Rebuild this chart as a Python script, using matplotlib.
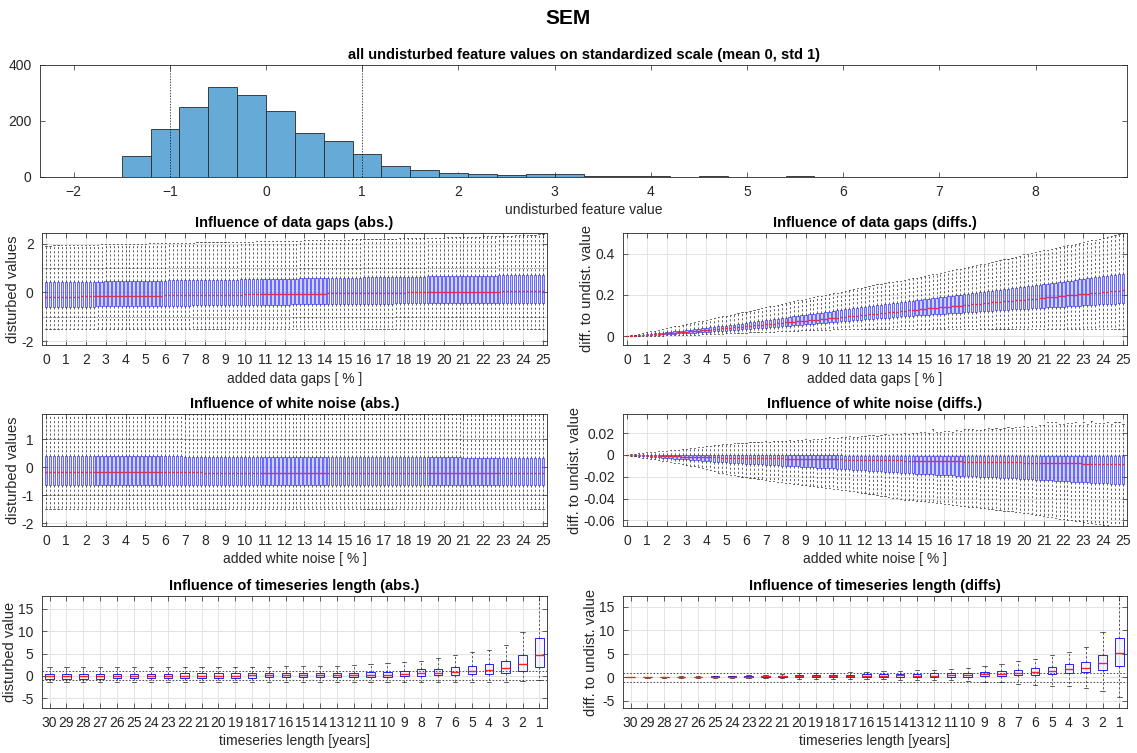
import matplotlib.pyplot as plt
import numpy as np
from matplotlib.ticker import FuncFormatter

plt.rcParams['font.family'] = ['Liberation Sans', 'DejaVu Sans']
plt.rcParams['font.size'] = 10

# ---- histogram of the undisturbed feature values (bins of 0.3, from -1.8) ----
hist_start, hist_bin = -1.8, 0.3
hist_counts = [1, 75, 170, 249, 322, 292, 234, 157, 128, 82, 39, 25, 14, 11, 7, 11, 10,
               5, 5, 4, 0, 3, 0, 0, 2, 0, 0, 0, 0, 0, 0, 0, 0, 1]

# ---- added data gaps / white noise levels in % ----
levels = np.round(np.arange(126) * 0.2, 1)

# data gaps, absolute values (hundredths)
gap_abs_lo = [
    -151, -151, -151, -151, -151, -151, -151, -151, -151, -151, -151, -151, -151, -151, -151,
    -151, -151, -151, -151, -151, -151, -151, -151, -151, -151, -151, -151, -151, -151, -151,
    -151, -151, -151, -151, -151, -151, -151, -151, -151, -151, -151, -151, -151, -151, -151,
    -151, -151, -151, -151, -151, -151, -151, -151, -151, -151, -151, -151, -151, -151, -151,
    -150, -150, -150, -150, -150, -150, -150, -150, -150, -150, -150, -150, -150, -150, -150,
    -150, -150, -150, -150, -150, -150, -150, -150, -150, -150, -150, -150, -150, -150, -150,
    -150, -150, -150, -150, -150, -150, -150, -150, -150, -150, -150, -150, -150, -150, -150,
    -150, -150, -150, -150, -150, -150, -150, -150, -150, -150, -150, -150, -150, -150, -150,
    -150, -150, -150, -150, -150, -150]
gap_abs_q1 = [
    -59, -59, -59, -59, -59,  -59, -58, -58, -58, -58,  -58, -58, -58, -57, -57,
    -57, -57, -57, -57, -56,  -56, -56, -56, -56, -56,  -55, -55, -55, -55, -55,
    -55, -54, -54, -54, -54,  -54, -54, -53, -53, -53,  -53, -53, -53, -52, -52,
    -52, -52, -52, -52, -51,  -51, -51, -51, -51, -51,  -50, -50, -50, -50, -50,
    -50, -50, -49, -49, -49,  -49, -49, -49, -48, -48,  -48, -48, -48, -48, -48,
    -47, -47, -47, -47, -47,  -47, -46, -46, -46, -46,  -46, -46, -46, -45, -45,
    -45, -45, -45, -45, -45,  -45, -44, -44, -44, -44,  -44, -44, -44, -44, -44,
    -44, -44, -43, -43, -43,  -43, -43, -43, -43, -43,  -43, -43, -43, -42, -42,
    -42, -42, -42, -42, -42,  -42]
gap_abs_med = [
    -18, -18, -18, -18, -17,  -17, -17, -17, -17, -16,  -16, -16, -16, -16, -16,
    -15, -15, -15, -15, -15,  -14, -14, -14, -14, -14,  -13, -13, -13, -13, -13,
    -12, -12, -12, -12, -12,  -11, -11, -11, -11, -11,  -10, -10, -10, -10, -10,
    -9, -9, -9, -9, -9,       -8, -8, -8, -8, -8,       -7, -7, -7, -7, -7,
    -7, -6, -6, -6, -6,       -6, -5, -5, -5, -5,       -5, -4, -4, -4, -4,
    -4, -3, -3, -3, -3,       -3, -2, -2, -2, -2,       -2, -1, -1, -1, -1,
    -1, 0, 0, 0, 0,           0, 0, 1, 1, 1,            1, 1, 1, 2, 2,
    2, 2, 2, 2, 3,            3, 3, 3, 3, 3,            4, 4, 4, 4, 4,
    4, 5, 5, 5, 5,            5]
gap_abs_q3 = [
    41, 41, 41, 42, 42,  42, 42, 43, 43, 43,  43, 44, 44, 44, 44,  45, 45, 45, 45, 46,
    46, 46, 46, 47, 47,  47, 47, 48, 48, 48,  48, 49, 49, 49, 50,  50, 50, 50, 51, 51,
    51, 51, 52, 52, 52,  52, 53, 53, 53, 54,  54, 54, 54, 55, 55,  55, 55, 56, 56, 56,
    57, 57, 57, 57, 58,  58, 58, 58, 59, 59,  59, 59, 60, 60, 60,  60, 61, 61, 61, 61,
    62, 62, 62, 62, 63,  63, 63, 63, 64, 64,  64, 64, 65, 65, 65,  65, 66, 66, 66, 66,
    67, 67, 67, 67, 68,  68, 68, 68, 68, 69,  69, 69, 69, 69, 70,  70, 70, 70, 70, 70,
    71, 71, 71, 71, 71,  71]
gap_abs_hi = [
    192, 192, 193, 193, 193,  194, 194, 194, 195, 195,  195, 196, 196, 196, 197,
    197, 197, 198, 198, 198,  199, 199, 199, 200, 200,  200, 201, 201, 201, 202,
    202, 202, 203, 203, 203,  204, 204, 204, 205, 205,  205, 206, 206, 206, 207,
    207, 207, 208, 208, 208,  209, 209, 209, 210, 210,  210, 211, 211, 211, 212,
    212, 212, 213, 213, 213,  214, 214, 214, 215, 215,  215, 216, 216, 216, 217,
    217, 217, 218, 218, 218,  219, 219, 219, 220, 220,  220, 221, 221, 221, 222,
    222, 222, 223, 223, 223,  224, 224, 224, 225, 225,  225, 226, 226, 226, 227,
    227, 228, 228, 229, 229,  230, 230, 231, 231, 232,  232, 233, 233, 234, 234,
    235, 235, 236, 237, 238,  240]

# data gaps, differences to the undisturbed value (thousandths)
gap_diff_lo = [
    0, 0, 1, 1, 2,  2, 2, 3, 3, 3,  4, 4, 5, 5, 6,  7, 7, 8, 8, 9,  10, 10, 11, 12, 13,
    14, 15, 15, 16, 17,  18, 19, 19, 20, 21,  22, 23, 23, 24, 25,  26, 27, 27, 28, 29,
    30, 30, 31, 32, 32,  33, 33, 34, 34, 34,  35, 35, 35, 35, 36,  36, 36, 36, 36, 36,
    36, 35, 36, 36, 37,  36, 36, 35, 36, 36,  35, 36, 36, 37, 36,  36, 35, 36, 36, 36,
    36, 37, 36, 36, 35,  36, 36, 36, 37, 36,  35, 36, 36, 36, 36,  36, 37, 36, 35, 36,
    36, 36, 36, 37, 36,  36, 35, 36, 36, 36,  36, 36, 37, 36, 36,  36, 36, 35, 36, 36,
    36]
gap_diff_q1 = [
    0, 1, 2, 3, 4,  5, 6, 7, 8, 9,  10, 11, 12, 14, 15,  16, 17, 18, 20, 21,
    22, 23, 24, 26, 27,  28, 29, 31, 32, 34,  35, 36, 38, 39, 41,  42, 44, 45, 47, 48,
    50, 52, 53, 55, 56,  58, 60, 61, 63, 64,  66, 68, 69, 71, 72,  74, 76, 77, 79, 80,
    82, 84, 85, 87, 88,  90, 91, 93, 94, 96,  97, 98, 100, 101, 103,  104, 105, 106, 108, 109,
    110, 111, 112, 114, 115,  116, 117, 118, 120, 121,  122, 123, 124, 126, 127,
    128, 129, 130, 131, 132,  133, 134, 135, 137, 138,  139, 140, 141, 142, 143,
    144, 145, 146, 148, 149,  150, 151, 152, 153, 154,  155, 156, 157, 158, 159,  160]
gap_diff_med = [
    0, 1, 3, 4, 6,  7, 9, 10, 12, 13,  15, 17, 18, 20, 21,  23, 25, 26, 28, 29,
    31, 33, 35, 36, 38,  40, 42, 44, 45, 47,  49, 51, 53, 54, 56,  58, 60, 62, 63, 65,
    67, 69, 71, 72, 74,  76, 78, 80, 81, 83,  85, 87, 89, 91, 93,  95, 97, 99, 100, 102,
    104, 106, 108, 110, 112,  114, 116, 118, 119, 121,  123, 125, 127, 129, 131,
    133, 135, 137, 138, 140,  142, 144, 146, 147, 149,  151, 153, 155, 156, 158,
    160, 162, 164, 165, 167,  169, 171, 173, 174, 176,  178, 180, 182, 183, 185,
    187, 189, 191, 192, 194,  196, 198, 200, 201, 203,  205, 207, 209, 210, 212,
    214, 216, 218, 219, 221,  222]
gap_diff_q3 = [
    0, 2, 4, 6, 8,  10, 12, 14, 16, 18,  20, 22, 24, 26, 28,  30, 32, 34, 37, 39,
    41, 43, 45, 48, 50,  52, 55, 57, 60, 62,  65, 68, 70, 73, 75,  78, 81, 83, 86, 88,
    91, 94, 96, 99, 101,  104, 107, 109, 112, 114,  117, 120, 122, 125, 127,
    130, 133, 135, 138, 140,  143, 145, 148, 150, 153,  155, 158, 160, 163, 165,
    168, 170, 173, 175, 178,  180, 182, 185, 187, 190,  192, 194, 197, 199, 202,
    204, 206, 209, 211, 214,  216, 218, 221, 223, 226,  228, 230, 233, 235, 238,
    240, 242, 245, 247, 250,  252, 255, 257, 260, 262,  265, 268, 270, 273, 275,
    278, 280, 283, 285, 288,  290, 293, 295, 298, 300,  303]
gap_diff_hi = [
    0, 4, 8, 12, 16,  20, 24, 28, 32, 36,  40, 44, 48, 52, 56,  60, 64, 68, 72, 76,
    80, 84, 88, 92, 96,  100, 104, 108, 112, 116,  120, 124, 128, 133, 137,
    141, 145, 149, 153, 157,  161, 165, 169, 174, 178,  182, 186, 190, 194, 197,
    200, 204, 208, 212, 216,  220, 224, 228, 232, 236,  240, 244, 248, 252, 255,
    258, 262, 265, 268, 270,  273, 276, 280, 284, 288,  292, 296, 300, 304, 308,
    312, 316, 320, 324, 328,  332, 336, 340, 344, 348,  352, 356, 360, 364, 368,
    372, 376, 380, 384, 388,  396, 400, 404, 408, 412,  416, 420, 424, 428, 432,
    436, 440, 444, 448, 452,  456, 460, 464, 468, 472,  476, 481, 486, 491, 496,  500]

# white noise, absolute values (hundredths)
noise_abs_lo = [
    -150, -150, -150, -150, -150, -150, -150, -150, -150, -150, -150, -150, -150, -150, -150,
    -150, -150, -150, -150, -150, -150, -150, -150, -150, -150, -150, -150, -150, -150, -150,
    -150, -150, -150, -150, -150, -150, -150, -150, -150, -150, -150, -150, -150, -150, -150,
    -150, -150, -150, -150, -150, -150, -150, -150, -150, -150, -150, -150, -150, -150, -150,
    -150, -150, -150, -150, -150, -150, -150, -150, -150, -150, -150, -150, -150, -150, -150,
    -150, -150, -150, -150, -150, -150, -150, -150, -150, -150, -150, -150, -150, -150, -150,
    -150, -150, -150, -150, -150, -150, -150, -150, -150, -150, -150, -150, -150, -150, -150,
    -150, -150, -150, -150, -150, -150, -150, -150, -150, -150, -150, -150, -150, -150, -150,
    -150, -150, -150, -150, -150, -150]
noise_abs_q1 = [
    -63, -63, -63, -63, -63, -63, -63, -63, -63, -63, -63, -63, -63, -63, -63,
    -63, -63, -63, -63, -63, -63, -63, -63, -63, -63, -63, -63, -63, -63, -63,
    -63, -63, -63, -63, -63, -63, -63, -63, -63, -63, -63, -63, -63, -63, -63,
    -63, -63, -63, -63, -63, -63, -63, -63, -63, -63, -63, -63, -63, -63, -63,
    -63, -63, -63, -63, -63, -64, -64, -64, -64, -64, -64, -64, -64, -64, -64,
    -64, -64, -64, -64, -64, -64, -64, -64, -64, -64, -64, -64, -64, -64, -64,
    -64, -64, -64, -64, -64, -64, -64, -64, -64, -64, -64, -64, -64, -64, -64,
    -64, -64, -64, -64, -64, -64, -64, -64, -64, -64, -64, -64, -64, -64, -64,
    -64, -64, -64, -64, -64, -64]
noise_abs_med = [
    -18, -18, -18, -18, -18, -18, -18, -18, -18, -18, -18, -18, -18, -18, -18,
    -18, -18, -18, -18, -18, -18, -18, -18, -18, -18, -18, -18, -18, -18, -18,
    -18, -18, -18, -18, -18, -18, -18, -18, -18, -18, -19, -19, -19, -19, -19,
    -19, -19, -19, -19, -19, -19, -19, -19, -19, -19, -19, -19, -19, -19, -19,
    -19, -19, -19, -19, -19, -19, -19, -19, -19, -19, -19, -19, -19, -19, -19,
    -19, -19, -19, -19, -19, -20, -20, -20, -20, -20, -20, -20, -20, -20, -20,
    -20, -20, -20, -20, -20, -20, -20, -20, -20, -20, -20, -20, -20, -20, -20,
    -20, -20, -20, -20, -20, -20, -20, -20, -20, -20, -21, -21, -21, -21, -21,
    -21, -21, -21, -21, -21, -21]
noise_abs_q3 = [
    40, 40, 40, 40, 40, 40, 40, 40, 40, 40, 40, 40, 40, 40, 40, 40, 40, 40, 40, 40,
    39, 39, 39, 39, 39, 39, 39, 39, 39, 39, 39, 39, 39, 39, 39,
    38, 38, 38, 38, 38, 38, 38, 38, 38, 38, 38, 38, 38, 38, 38, 38, 38, 38, 38, 38,
    37, 37, 37, 37, 37, 37, 37, 37, 37, 37, 37, 37, 37, 37, 37,
    36, 36, 36, 36, 36, 36, 36, 36, 36, 36, 36, 36, 36, 36, 36, 36, 36, 36, 36, 36,
    35, 35, 35, 35, 35, 35, 35, 35, 35, 35, 35, 35, 35, 35, 35,
    34, 34, 34, 34, 34, 34, 34, 34, 34, 34, 34, 34, 34, 34, 34,
    33, 33, 33, 33, 33, 33]
noise_abs_hi = [
    210, 210, 210, 210, 210, 210, 210, 210, 210, 210, 210, 210, 210, 210, 210,
    210, 210, 210, 210, 210, 210, 210, 210, 210, 210, 210, 210, 210, 210, 210,
    210, 210, 210, 210, 210, 210, 210, 210, 210, 210, 210, 210, 210, 210, 210,
    210, 210, 210, 210, 210, 210, 210, 210, 210, 210, 210, 210, 210, 210, 210,
    210, 210, 210, 210, 210, 210, 210, 210, 210, 210, 210, 210, 210, 210, 210,
    210, 210, 210, 210, 210, 210, 210, 210, 210, 210, 210, 210, 210, 210, 210,
    210, 210, 210, 210, 210, 210, 210, 210, 210, 210, 210, 210, 210, 210, 210,
    210, 210, 210, 210, 210, 210, 210, 210, 210, 210, 210, 210, 210, 210, 210,
    210, 210, 210, 210, 210, 210]

# white noise, differences to the undisturbed value (1e-4)
noise_diff_lo = [
    0, -6, -12, -18, -24,  -30, -36, -42, -48, -54,  -60, -66, -72, -78, -84,
    -90, -98, -105, -112, -120,  -127, -138, -150, -162, -170,  -175, -181, -187, -193, -199,
    -205, -210, -215, -220, -225,  -230, -235, -240, -245, -250,  -255, -260, -265, -270, -275,
    -280, -284, -288, -292, -296,  -300, -305, -310, -315, -320,  -325, -330, -335, -340, -345,
    -350, -356, -362, -368, -374,  -380, -386, -392, -398, -404,  -410, -413, -416, -419, -422,
    -425, -430, -435, -440, -445,  -450, -454, -458, -462, -466,  -470, -474, -478, -482, -486,
    -490, -494, -498, -502, -506,  -510, -514, -518, -522, -526,  -530, -536, -542, -548, -554,
    -560, -566, -572, -578, -584,  -590, -595, -600, -605, -610,  -615, -620, -625, -630, -635,
    -640, -644, -648, -652, -656,  -660]
noise_diff_q1 = [
    0, -3, -6, -8, -11,  -14, -17, -20, -22, -25,  -28, -31, -34, -36, -39,
    -42, -45, -48, -50, -53,  -56, -58, -61, -63, -66,  -68, -70, -72, -75, -77,
    -79, -81, -83, -86, -88,  -90, -92, -94, -96, -98,  -100, -102, -104, -106, -108,
    -110, -112, -114, -116, -118,  -120, -122, -124, -127, -129,  -131, -133, -135, -138, -140,
    -142, -144, -146, -149, -151,  -153, -155, -157, -160, -162,  -164, -166, -168, -171, -173,
    -175, -177, -179, -180, -182,  -184, -186, -188, -189, -191,  -193, -195, -197, -198, -200,
    -202, -204, -206, -207, -209,  -211, -213, -215, -216, -218,  -220, -222, -224, -226, -228,
    -230, -232, -234, -236, -238,  -240, -242, -244, -246, -248,  -250, -252, -254, -256, -258,
    -260, -262, -264, -266, -268,  -270]
noise_diff_med = [
    0, -1, -2, -4, -5,  -6, -7, -8, -9, -10,  -11, -12, -13, -14, -15,  -16, -17, -18, -19, -20,
    -21, -22, -23, -23, -24,  -25, -26, -26, -27, -27,  -28, -29, -29, -30, -30,
    -31, -32, -32, -33, -33,  -34, -35, -35, -36, -36,  -37, -38, -38, -39, -39,
    -40, -41, -41, -42, -42,  -43, -44, -44, -45, -45,  -46, -47, -47, -48, -48,
    -49, -50, -50, -51, -51,  -52, -53, -53, -54, -54,  -55, -56, -56, -57, -57,
    -58, -59, -59, -60, -60,  -61, -62, -62, -63, -63,  -64, -65, -65, -66, -66,
    -67, -68, -68, -69, -69,  -70, -71, -71, -72, -72,  -73, -74, -74, -75, -75,
    -76, -77, -77, -78, -78,  -79, -80, -80, -81, -81,  -82, -83, -84, -84, -85,  -86]
noise_diff_q3 = [
    0, 0, 0, 0, -1,  -1, -1, -1, -1, -1,  -2, -2, -2, -2, -2,  -2, -2, -3, -3, -3,
    -3, -3, -3, -3, -3,  -3, -4, -4, -4, -4,  -4, -4, -4, -4, -4,  -4, -5, -5, -5, -5,
    -5, -5, -5, -5, -5,  -5, -5, -5, -5, -5,  -5, -5, -5, -5, -5,  -6, -6, -6, -6, -6,
    -6, -6, -6, -6, -6,  -6, -6, -6, -6, -6,  -6, -6, -6, -6, -6,  -7, -7, -7, -7, -7,
    -7, -7, -7, -7, -7,  -7, -7, -7, -7, -7,  -7, -7, -7, -7, -7,  -8, -8, -8, -8, -8,
    -8, -8, -8, -8, -8,  -8, -8, -8, -8, -8,  -8, -8, -8, -8, -8,  -9, -9, -9, -9, -9,
    -9, -9, -9, -9, -9,  -9]
noise_diff_hi = [
    0, 5, 10, 15, 20,  25, 28, 31, 34, 37,  40, 43, 46, 49, 52,  55, 60, 65, 70, 75,
    80, 85, 88, 92, 96,  100, 98, 105, 110, 108,  112, 115, 118, 116, 120,
    125, 122, 128, 130, 127,  132, 135, 130, 138, 140,  142, 138, 145, 150, 146,
    155, 160, 152, 158, 162,  165, 170, 162, 168, 175,  172, 178, 182, 176, 185,
    190, 186, 195, 192, 188,  200, 195, 205, 198, 210,  212, 205, 240, 210, 208,
    215, 220, 212, 225, 218,  240, 235, 242, 228, 230,  235, 245, 238, 250, 240,
    248, 255, 245, 260, 252,  262, 258, 265, 255, 270,  275, 300, 305, 298, 285,
    280, 295, 290, 300, 278,  305, 285, 310, 292, 295,  288, 300, 280, 305, 298,  285]

# ---- timeseries length ----
ts_years = [30, 29, 28, 27, 26, 25, 24, 23, 22, 21, 20, 19, 18, 17, 16,
            15, 14, 13, 12, 11, 10, 9, 8, 7, 6, 5, 4, 3, 2, 1]

ts_abs_lo = [-1.4, -1.4, -1.4, -1.4, -1.4, -1.4, -1.4, -1.4, -1.4, -1.4, -1.4, -1.4, -1.4, -1.4, -1.4,
             -1.4, -1.4, -1.4, -1.4, -1.3, -1.3, -1.4, -1.4, -1.4, -1.4, -1.4, -1.4, -1.3, -1.1, -1.0]
ts_abs_q1 = [-0.6, -0.6, -0.6, -0.6, -0.55, -0.55, -0.55, -0.55, -0.5, -0.5, -0.45, -0.4, -0.4, -0.35, -0.35,
             -0.35, -0.35, -0.3, -0.3, -0.25, -0.2, -0.1, 0.0, 0.15, 0.2, 0.35, 0.5, 0.7, 1.0, 2.1]
ts_abs_med = [-0.1, -0.1, -0.1, -0.05, -0.05, 0.0, 0.0, 0.0, 0.0, 0.0, 0.05, 0.05, 0.1, 0.1, 0.15,
              0.15, 0.15, 0.15, 0.2, 0.25, 0.3, 0.35, 0.55, 0.6, 0.9, 1.1, 1.4, 1.7, 2.6, 4.6]
ts_abs_q3 = [0.4, 0.4, 0.45, 0.45, 0.5, 0.5, 0.5, 0.5, 0.55, 0.55, 0.6, 0.6, 0.65, 0.65, 0.7,
             0.7, 0.7, 0.7, 0.75, 0.8, 0.85, 1.1, 1.5, 1.6, 1.9, 2.2, 2.7, 3.3, 4.6, 8.4]
ts_abs_hi = [1.9, 1.9, 2.0, 2.0, 2.1, 2.1, 2.1, 2.0, 1.9, 1.9, 2.0, 2.0, 2.0, 2.0, 2.2,
             2.2, 2.2, 2.2, 2.4, 2.6, 2.8, 3.0, 3.4, 3.9, 4.6, 5.3, 5.9, 7.0, 9.8, 17.8]

ts_diff_lo = [0.0, -0.05, -0.05, -0.05, -0.05, -0.05, -0.1, -0.15, -0.2, -0.2, -0.3, -0.3, -0.4, -0.4, -0.4,
              -0.3, -0.5, -0.6, -0.6, -0.6, -0.8, -0.9, -1.0, -1.3, -1.6, -1.8, -1.9, -2.2, -2.9, -4.2]
ts_diff_q1 = [0.0, 0.0, 0.02, 0.05, 0.07, 0.08, 0.08, 0.1, 0.1, 0.12, 0.1, 0.1, 0.05, 0.05, 0.1,
              0.1, 0.1, 0.0, 0.05, 0.15, 0.1, 0.4, 0.4, 0.5, 0.6, 0.7, 1.0, 1.1, 1.5, 2.5]
ts_diff_med = [0.0, 0.02, 0.05, 0.08, 0.1, 0.12, 0.15, 0.15, 0.2, 0.22, 0.25, 0.3, 0.3, 0.3, 0.35,
               0.4, 0.45, 0.3, 0.4, 0.5, 0.5, 0.7, 0.8, 1.0, 1.2, 1.4, 1.8, 2.1, 3.1, 5.1]
ts_diff_q3 = [0.0, 0.05, 0.1, 0.12, 0.15, 0.2, 0.25, 0.28, 0.35, 0.4, 0.45, 0.5, 0.6, 0.6, 0.7,
              0.7, 0.8, 0.8, 0.85, 0.9, 0.95, 1.1, 1.4, 1.6, 2.0, 2.3, 2.8, 3.3, 4.8, 8.3]
ts_diff_hi = [0.0, 0.1, 0.15, 0.2, 0.25, 0.35, 0.4, 0.5, 0.6, 0.7, 0.85, 0.95, 1.0, 1.1, 1.2,
              1.3, 1.4, 1.5, 1.6, 1.8, 1.95, 2.4, 2.9, 3.4, 4.0, 4.7, 5.5, 6.4, 9.6, 17.3]

# ---- figure layout (pixel boxes: left, right, top, bottom) ----
W, H = 1137, 753
fig = plt.figure(figsize=(W / 100, H / 100), dpi=100)
TXT = '#262626'


def add_axes(l, r, t, b):
    return fig.add_axes([l / W, 1 - b / H, (r - l) / W, (b - t) / H])


def style(ax, grid=True):
    ax.tick_params(direction='in', length=3.5, width=0.5, top=True, right=True,
                   colors=TXT, labelsize=10, pad=6)
    for s in ax.spines.values():
        s.set_linewidth(0.6)
        s.set_color(TXT)
    if grid:
        ax.grid(True, color='#e3e3e3', lw=0.7)
    ax.set_axisbelow(True)
    ax.yaxis.set_major_formatter(FuncFormatter(lambda v, p: '%g' % round(v, 6)))


def boxes(ax, pos, lo, q1, med, q3, hi, scale, width, fill, lw):
    stats = [dict(whislo=a / scale, q1=b / scale, med=c / scale, q3=d / scale,
                  whishi=e / scale, fliers=[])
             for a, b, c, d, e in zip(lo, q1, med, q3, hi)]
    ax.bxp(stats, positions=pos, widths=width, showfliers=False, patch_artist=True,
           manage_ticks=False,
           boxprops=dict(facecolor=fill, edgecolor='#2020ff', lw=lw),
           medianprops=dict(color='#ff2020', lw=1.0, zorder=4),
           whiskerprops=dict(color='#202020', lw=0.5, ls=(0, (3, 3))),
           capprops=dict(color='#202020', lw=0.5))


def title(ax, s):
    ax.set_title(s, fontsize=10.5, weight='bold', pad=4)


def labels(ax, xlab, ylab):
    ax.set_xlabel(xlab, fontsize=10, color=TXT, labelpad=3)
    ax.set_ylabel(ylab, fontsize=10.5, color=TXT, labelpad=1)


fig.text(0.5, 1 - 18 / H, 'SEM', ha='center', va='center', fontsize=15, weight='bold')

# histogram
ax = add_axes(40, 1127, 65, 177)
style(ax, grid=False)
edges = hist_start + hist_bin * np.arange(len(hist_counts))
ax.bar(edges, hist_counts, width=hist_bin, align='edge', color='#66aad7',
       edgecolor='#262626', lw=0.6)
ax.axvline(-1, color='k', ls=(0, (2, 2)), lw=0.5)
ax.axvline(1, color='k', ls=(0, (2, 2)), lw=0.5)
ax.set_xlim(-2.35, 8.95)
ax.set_ylim(0, 400)
ax.set_xticks(range(-2, 9))
ax.set_yticks([0, 200, 400])
ax.set_xlabel('undisturbed feature value', fontsize=10, color=TXT, labelpad=3)
title(ax, 'all undisturbed feature values on standardized scale (mean 0, std 1)')

# data gaps and white noise
panels = [
    ((42, 547, 233, 345), gap_abs_lo, gap_abs_q1, gap_abs_med, gap_abs_q3, gap_abs_hi, 100,
     (-2.16, 2.44), [-2, 0, 2], 'disturbed values', 'added data gaps [ % ]',
     'Influence of data gaps (abs.)', True),
    ((623, 1127, 233, 345), gap_diff_lo, gap_diff_q1, gap_diff_med, gap_diff_q3, gap_diff_hi, 1000,
     (-0.042, 0.5), [0, 0.2, 0.4], 'diff. to undist. value', 'added data gaps [ % ]',
     'Influence of data gaps (diffs.)', False),
    ((42, 547, 414, 526), noise_abs_lo, noise_abs_q1, noise_abs_med, noise_abs_q3, noise_abs_hi, 100,
     (-2.1, 1.9), [-2, -1, 0, 1], 'disturbed values', 'added white noise [ % ]',
     'Influence of white noise (abs.)', True),
    ((623, 1127, 414, 526), noise_diff_lo, noise_diff_q1, noise_diff_med, noise_diff_q3, noise_diff_hi, 10000,
     (-0.0652, 0.0375), [-0.06, -0.04, -0.02, 0, 0.02], 'diff. to undist. value', 'added white noise [ % ]',
     'Influence of white noise (diffs.)', False),
]
for box, lo, q1, med, q3, hi, sc, ylim, yt, ylab, xlab, ttl, ref in panels:
    ax = add_axes(*box)
    style(ax)
    if ref:
        ax.axhline(1, color='#555555', ls=(0, (1.5, 1.5)), lw=0.5)
        ax.axhline(-1, color='#555555', ls=(0, (1.5, 1.5)), lw=0.5)
    boxes(ax, levels, lo, q1, med, q3, hi, sc, 0.12, (0.3, 0.3, 1, 0.25), 0.45)
    ax.set_xlim(-0.2, 25.2)
    ax.set_ylim(*ylim)
    ax.set_xticks(range(26))
    ax.set_yticks(yt)
    labels(ax, xlab, ylab)
    title(ax, ttl)

# timeseries length
ts_pos = np.arange(1, len(ts_years) + 1)
ts_panels = [
    ((42, 547, 596, 708), ts_abs_lo, ts_abs_q1, ts_abs_med, ts_abs_q3, ts_abs_hi,
     (-7.2, 17.9), 'disturbed value', 'Influence of timeseries length (abs.)'),
    ((623, 1127, 596, 708), ts_diff_lo, ts_diff_q1, ts_diff_med, ts_diff_q3, ts_diff_hi,
     (-6.5, 17.3), 'diff. to undist. value', 'Influence of timeseries length (diffs)'),
]
for box, lo, q1, med, q3, hi, ylim, ylab, ttl in ts_panels:
    ax = add_axes(*box)
    style(ax)
    ax.axhline(1, color='#333333', ls=(0, (2, 2)), lw=0.6)
    ax.axhline(-1, color='#333333', ls=(0, (2, 2)), lw=0.6)
    boxes(ax, ts_pos, lo, q1, med, q3, hi, 1, 0.5, (0.5, 0.5, 1, 0.08), 0.7)
    ax.set_xlim(0.55, 30.45)
    ax.set_ylim(*ylim)
    ax.set_xticks(ts_pos)
    ax.set_xticklabels([str(y) for y in ts_years])
    ax.set_yticks([-5, 0, 5, 10, 15])
    labels(ax, 'timeseries length [years]', ylab)
    title(ax, ttl)

fig.savefig('out.png', dpi=100)
